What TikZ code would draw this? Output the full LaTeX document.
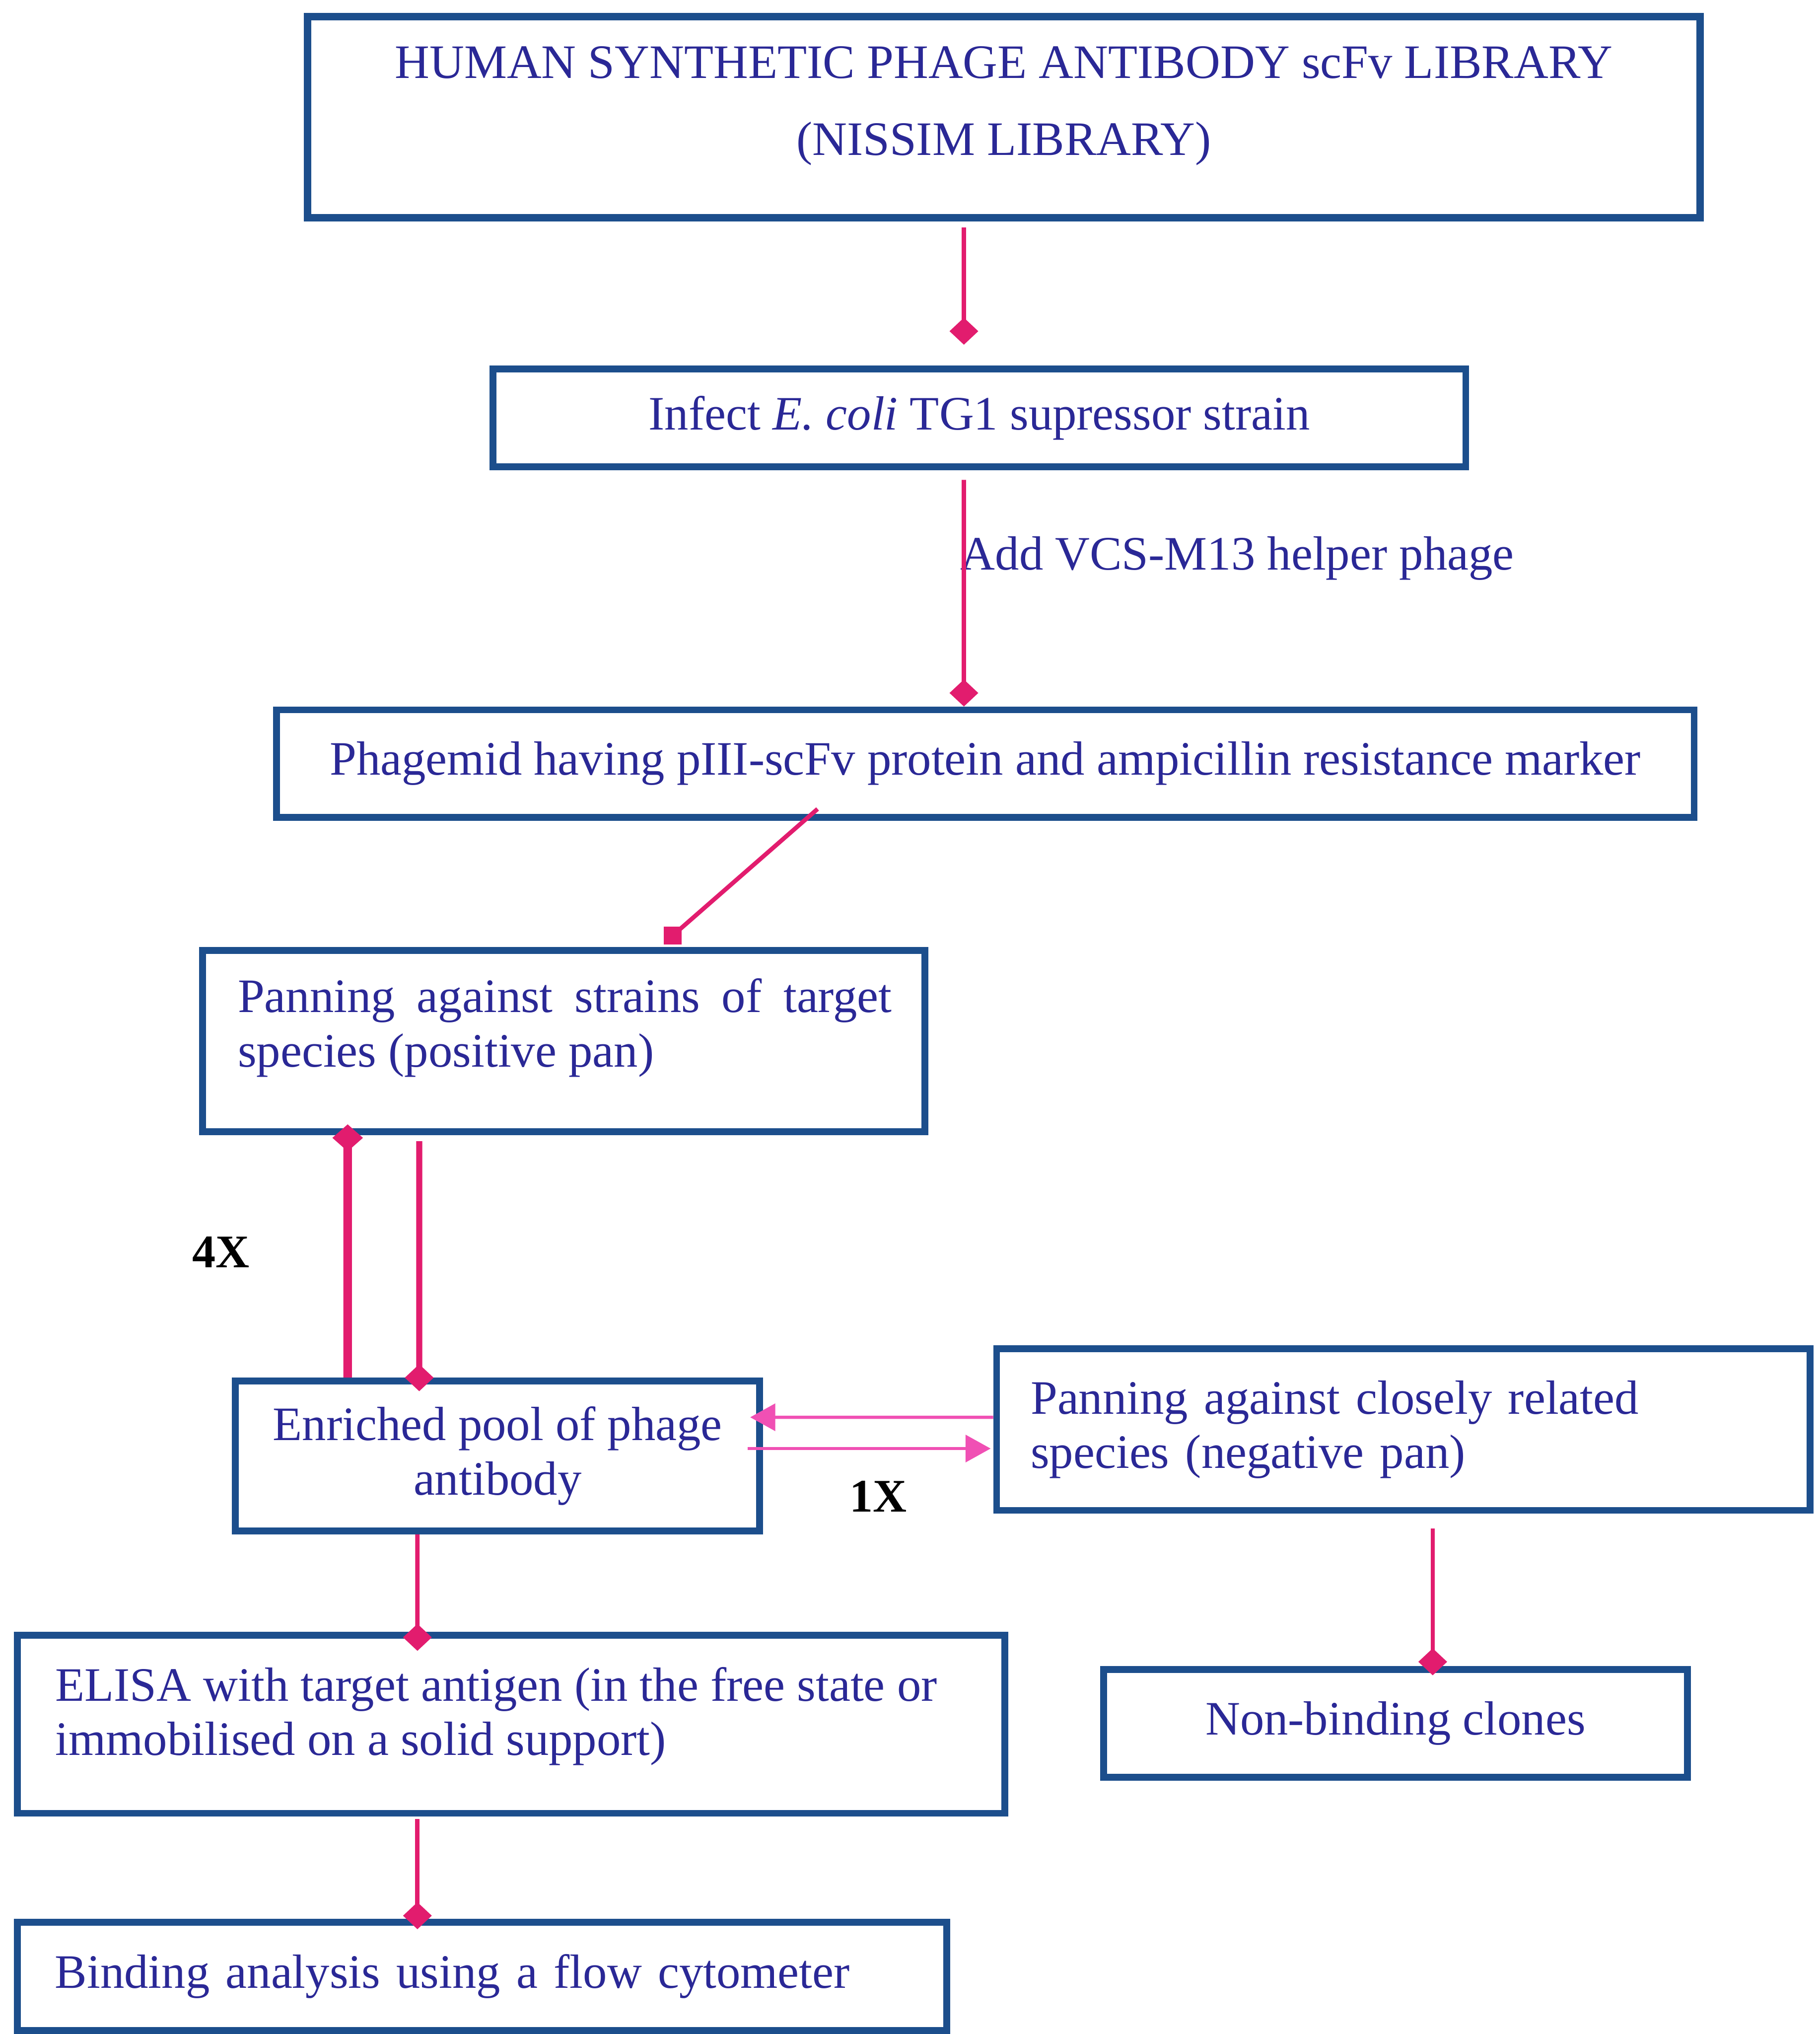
\documentclass[tikz,border=0pt]{standalone}
\usepackage{fontspec}
\setmainfont{Liberation Serif}
\usetikzlibrary{arrows.meta}
\definecolor{boxblue}{RGB}{28,78,140}
\definecolor{txtblue}{RGB}{42,40,150}
\definecolor{pk}{RGB}{226,28,110}
\definecolor{lpk}{RGB}{240,80,180}
\newcommand{\mfs}{\fontsize{38}{43}\selectfont}
\begin{document}
\begin{tikzpicture}[
  box/.style={draw=boxblue, line width=0.19cm, inner sep=0pt, text=txtblue, font=\mfs},
  txt/.style={inner sep=0pt, text=txtblue, font=\mfs},
  lbl/.style={inner sep=0pt, text=black, font=\fontsize{37}{40}\selectfont\bfseries},
  pkd/.style={draw=pk, line width=0.12cm, -{Diamond[length=0.75cm,width=0.8cm]}},
  pkline/.style={draw=pk, line width=0.12cm},
  lpka/.style={draw=lpk, line width=0.09cm, -{Triangle[length=0.7cm,width=0.75cm]}}
]
\fill[white] (0,0) rectangle (50.62,-56.56);
\useasboundingbox (0,0) rectangle (50.62,-56.56);

% boxes
\node[box, line width=0.21cm, minimum width=38.74cm, minimum height=5.59cm] (lib) at (27.92,-3.255) {};
\node[box, minimum width=27.06cm, minimum height=2.72cm] (infect) at (27.24,-11.62) {Infect \textit{E. coli} TG1 supressor strain};
\node[box, minimum width=39.43cm, minimum height=2.99cm] (phag) at (27.405,-21.235) {Phagemid having pIII-scFv protein and ampicillin resistance marker};
\node[box, minimum width=20.09cm, minimum height=5.04cm] (pospan) at (15.675,-28.95) {};
\node[box, minimum width=14.58cm, minimum height=4.17cm, align=center] (enr) at (13.84,-40.485) {Enriched pool of phage\\antibody};
\node[box, minimum width=22.63cm, minimum height=4.5cm, inner xsep=0.95cm, text width=20.73cm, align=left] (negpan) at (39.035,-39.75) {Panning against closely related\\species (negative pan)};
\node[box, minimum width=16.23cm, minimum height=3.0cm] (nonbind) at (38.815,-47.92) {Non-binding clones};
\node[box, minimum width=27.47cm, minimum height=4.95cm] (elisa) at (14.215,-47.945) {};
\node[box, minimum width=25.85cm, minimum height=3.01cm, inner xsep=1.05cm, text width=23.75cm, align=left] (bind) at (13.405,-54.955) {Binding analysis using a flow cytometer};

% texts placed inside boxes (anchor base = last line for align without text width)
\node[txt, anchor=base, align=center] (libtxt) at (27.92,-4.31) {HUMAN SYNTHETIC PHAGE ANTIBODY scFv LIBRARY\\[0.63cm](NISSIM LIBRARY)};
\node[txt, anchor=base west, text width=18.19cm, align=justify] (postxt) at (6.61,-28.15) {Panning against strains of target\linebreak species (positive pan)};
\node[txt, anchor=base west, align=left] (elisatxt) at (1.53,-48.81) {ELISA with target antigen (in the free state or\\immobilised on a solid support)};

% labels
\node[txt, anchor=base west] (addtxt) at (26.71,-15.84) {Add VCS-M13 helper phage};
\node[lbl, anchor=base west] (fourx) at (5.34,-35.24) {4X};
\node[lbl, anchor=base west] (onex) at (23.63,-42.04) {1X};

% connectors
\draw[pkd] ([xshift=-1.11cm,yshift=-0.17cm]lib.south) -- ([xshift=-0.43cm,yshift=0.58cm]infect.north);
\draw[pkd] ([xshift=-0.43cm,yshift=-0.27cm]infect.south) -- ([xshift=-0.595cm]phag.north);
\draw[pkline] ([xshift=-4.665cm,yshift=0.33cm]phag.south) -- ([xshift=3.035cm,yshift=0.32cm]pospan.north);
\fill[pk] ([xshift=2.78cm,yshift=0.07cm]pospan.north) rectangle ([xshift=3.29cm,yshift=0.57cm]pospan.north);
\draw[pkd, line width=0.24cm, -{Diamond[length=0.75cm,width=0.85cm]}] ([xshift=-4.17cm]enr.north) -- ([xshift=-6.005cm,yshift=0.3cm]pospan.south);
\draw[pkd, line width=0.17cm] ([xshift=-4.015cm,yshift=-0.17cm]pospan.south) -- ([xshift=-2.18cm,yshift=-0.38cm]enr.north);
\draw[lpka] ([yshift=0.34cm]negpan.west) -- ([xshift=-0.36cm,yshift=1.075cm]enr.east);
\draw[lpka] ([xshift=-0.43cm,yshift=0.205cm]enr.east) -- ([xshift=-0.07cm,yshift=-0.53cm]negpan.west);
\draw[pkd] ([xshift=-2.23cm]enr.south) -- ([xshift=-2.605cm,yshift=-0.53cm]elisa.north);
\draw[pkd] ([xshift=-2.605cm,yshift=-0.07cm]elisa.south) -- ([xshift=-1.795cm,yshift=-0.29cm]bind.north);
\draw[pkd] ([xshift=0.815cm,yshift=-0.41cm]negpan.south) -- ([xshift=1.035cm,yshift=-0.26cm]nonbind.north);
\end{tikzpicture}
\end{document}
